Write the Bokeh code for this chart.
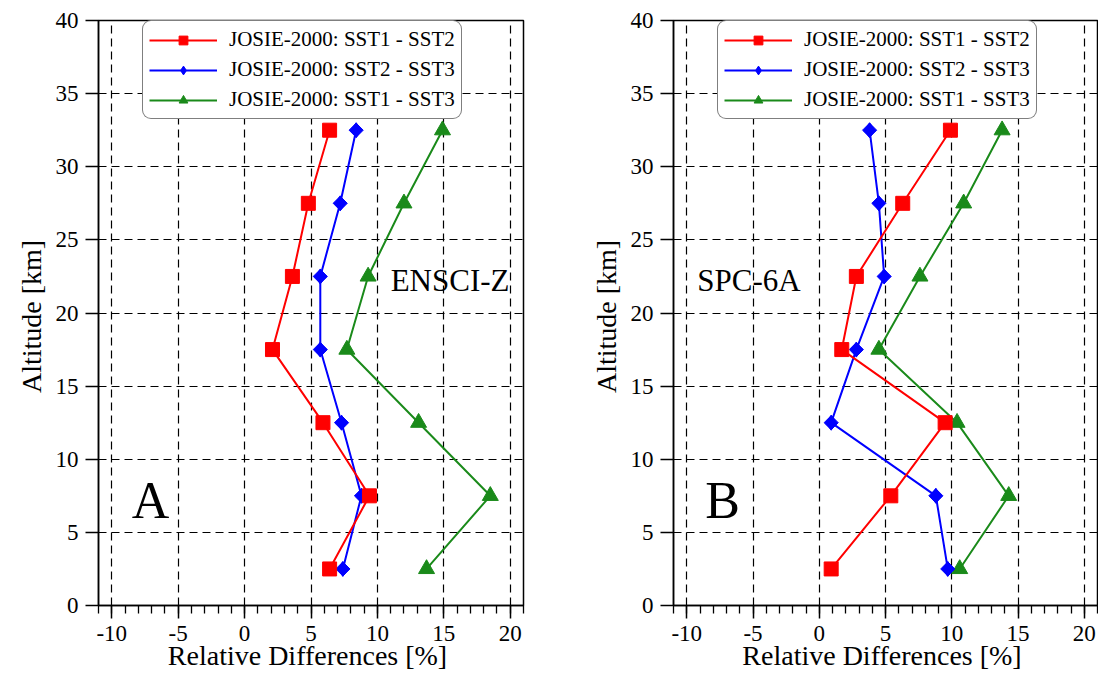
import math
from bokeh.plotting import figure
from bokeh.layouts import row
from bokeh.models import (Range1d, FixedTicker, Legend, LegendItem, Label)
from bokeh.embed import file_html
from bokeh.resources import INLINE

# ---------------- data ----------------
altitude = [2.5, 7.5, 12.5, 17.5, 22.5, 27.5, 32.5]

# Panel A (ENSCI-Z)
a_sst1_sst2 = [6.4, 9.4, 5.9, 2.1, 3.6, 4.8, 6.4]
a_sst2_sst3 = [7.4, 8.8, 7.3, 5.7, 5.7, 7.2, 8.4]
a_sst1_sst3 = [13.7, 18.5, 13.1, 7.7, 9.3, 12.0, 14.9]

# Panel B (SPC-6A)
b_sst1_sst2 = [0.9, 5.4, 9.5, 1.7, 2.8, 6.3, 9.9]
b_sst2_sst3 = [9.7, 8.8, 0.9, 2.8, 4.9, 4.5, 3.8]
b_sst1_sst3 = [10.6, 14.3, 10.4, 4.5, 7.6, 10.9, 13.8]

series_labels = ["JOSIE-2000: SST1 - SST2",
                 "JOSIE-2000: SST2 - SST3",
                 "JOSIE-2000: SST1 - SST3"]

x_major = [-10, -5, 0, 5, 10, 15, 20]
x_minor = list(range(-11, 22))
y_major = [0, 5, 10, 15, 20, 25, 30, 35, 40]

FONT = "Liberation Serif"
RED = "#ff0000"
BLUE = "#0000ff"
GREEN = "#1a8a1a"


def style_axis(ax, ticks, label):
    ax.major_label_overrides = {t: str(t) for t in ticks}
    ax.axis_label = label
    ax.axis_line_color = "black"
    ax.axis_line_width = 1.5
    ax.major_tick_line_color = "black"
    ax.major_tick_line_width = 1.5
    ax.major_tick_out = 13
    ax.major_tick_in = 0
    ax.major_label_text_font = FONT
    ax.major_label_text_font_size = "23px"
    ax.major_label_text_color = "black"
    ax.axis_label_text_font = FONT
    ax.axis_label_text_font_size = "28px"
    ax.axis_label_text_font_style = "normal"
    ax.axis_label_text_color = "black"


def make_panel(vals12, vals23, vals13, sensor, letter, sensor_x, letter_x,
               width, bl, br):
    p = figure(width=width, height=678, output_backend="svg",
               toolbar_location=None,
               x_range=Range1d(-11, 21), y_range=Range1d(0, 40),
               min_border_left=bl, min_border_right=br,
               min_border_top=20, min_border_bottom=73)
    p.background_fill_color = "white"
    p.border_fill_color = "white"
    p.outline_line_color = "black"
    p.outline_line_width = 1.5

    xa = p.xaxis[0]
    ya = p.yaxis[0]
    style_axis(xa, x_major, "Relative Differences  [%]")
    style_axis(ya, y_major, "Altitude  [km]")
    xa.ticker = FixedTicker(ticks=x_major, minor_ticks=x_minor)
    ya.ticker = FixedTicker(ticks=y_major)
    xa.minor_tick_line_color = "black"
    xa.minor_tick_line_width = 1.3
    xa.minor_tick_out = 8
    xa.minor_tick_in = 0
    ya.minor_tick_line_color = None
    xa.major_label_standoff = 7
    ya.major_label_standoff = 7
    xa.axis_label_standoff = -4
    ya.axis_label_standoff = 6

    # grid
    for g in (p.xgrid[0], p.ygrid[0]):
        g.grid_line_color = "black"
        g.grid_line_width = 1.2
        g.grid_line_dash = "8 5"
    p.xgrid[0].ticker = FixedTicker(ticks=x_major)
    p.ygrid[0].ticker = FixedTicker(ticks=y_major)

    # series (green bottom, blue, red on top)
    lg = p.line(vals13, altitude, line_color=GREEN, line_width=2)
    sg = p.scatter(vals13, altitude, marker="triangle", size=16,
                   fill_color=GREEN, line_color=GREEN)
    lb = p.line(vals23, altitude, line_color=BLUE, line_width=2)
    sb_leg = p.scatter(vals23, altitude, marker="diamond", size=15,
                       fill_color=BLUE, line_color=BLUE)
    p.scatter(vals23, altitude, marker="square", size=10,
              angle=math.pi / 4, fill_color=BLUE, line_color=BLUE)
    lr = p.line(vals12, altitude, line_color=RED, line_width=2)
    sr = p.scatter(vals12, altitude, marker="square", size=14,
                   fill_color=RED, line_color=RED)

    legend = Legend(items=[
        LegendItem(label=series_labels[0], renderers=[lr, sr]),
        LegendItem(label=series_labels[1], renderers=[lb, sb_leg]),
        LegendItem(label=series_labels[2], renderers=[lg, sg]),
    ], location=(44, 486))
    legend.label_text_font = FONT
    legend.label_text_font_size = "21px"
    legend.label_text_color = "black"
    legend.glyph_width = 68
    legend.glyph_height = 22
    legend.label_height = 22
    legend.label_standoff = 12
    legend.spacing = 5
    legend.padding = 6
    legend.margin = 0
    legend.border_line_color = "black"
    legend.border_line_width = 1.2
    legend.background_fill_color = "white"
    legend.background_fill_alpha = 1.0
    try:
        legend.border_radius = 9
    except Exception:
        pass
    p.add_layout(legend, "center")

    p.add_layout(Label(x=sensor_x, y=22.2, text=sensor, text_font=FONT,
                       text_font_size="31px", text_color="black",
                       text_baseline="middle", text_align="left"))
    p.add_layout(Label(x=letter_x, y=7.2, text=letter, text_font=FONT,
                       text_font_size="52px", text_color="black",
                       text_baseline="middle", text_align="left"))
    return p


pA = make_panel(a_sst1_sst2, a_sst2_sst3, a_sst1_sst3, "ENSCI-Z", "A",
                11.0, -8.5, 548, 98, 25)
pB = make_panel(b_sst1_sst2, b_sst2_sst3, b_sst1_sst3, "SPC-6A", "B",
                -9.2, -8.6, 550, 125, 1)

layout = row(pA, pB)
open("out.html", "w").write(file_html(layout, INLINE))
